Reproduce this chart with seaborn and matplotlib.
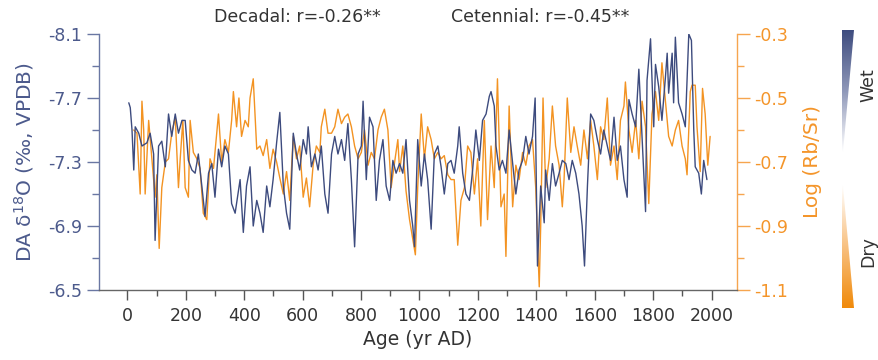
import numpy as np
import pandas as pd
import matplotlib
matplotlib.use("Agg")
import matplotlib.pyplot as plt
import seaborn as sns
from matplotlib.colors import LinearSegmentedColormap
from matplotlib.patches import Polygon
from matplotlib.ticker import FixedLocator, MultipleLocator

# ---------------- data ----------------
d18o_age = [5, 10, 16, 22, 27, 39, 50, 67, 78, 90,
            95, 107, 118, 130, 141, 152, 164, 175, 187, 198,
            209, 221, 232, 243, 255, 266, 278, 289, 300, 312,
            323, 334, 346, 357, 369, 386, 397, 408, 420, 431,
            443, 454, 465, 477, 488, 499, 511, 522, 534, 545,
            556, 568, 579, 590, 602, 613, 619, 630, 642, 653,
            664, 676, 687, 699, 710, 721, 733, 744, 755, 767,
            778, 790, 801, 807, 818, 829, 841, 852, 863, 875,
            886, 898, 909, 920,
            932, 943, 954, 966, 977, 983, 994, 1006, 1017, 1028,
            1040, 1051, 1063, 1074, 1085, 1097, 1108, 1119, 1131, 1136,
            1148, 1159, 1171, 1182, 1193, 1205, 1216, 1228, 1239, 1245,
            1256, 1262, 1273, 1284, 1296, 1307, 1318, 1330, 1341, 1353,
            1364, 1375, 1387, 1396, 1404, 1415, 1427, 1432, 1444, 1455,
            1466, 1478, 1489, 1501, 1512, 1523, 1535, 1546, 1557, 1565,
            1575, 1586, 1597, 1609, 1620, 1631, 1643, 1654, 1666, 1677,
            1688, 1700, 1711, 1717, 1728, 1740, 1751, 1762, 1774, 1779,
            1791, 1802, 1808, 1819, 1830, 1842, 1848, 1853, 1865, 1870,
            1876, 1887, 1899, 1910, 1922, 1931, 1939, 1944, 1956, 1965,
            1973, 1984]
d18o_val = [-7.67, -7.64, -7.50, -7.25, -7.52, -7.48, -7.40, -7.42, -7.48, -7.35,
            -6.81, -7.40, -7.43, -7.27, -7.60, -7.46, -7.60, -7.48, -7.56, -7.56,
            -7.31, -7.25, -7.23, -7.35, -7.15, -6.96, -7.23, -7.29, -7.08, -7.38,
            -7.27, -7.40, -7.35, -7.04, -6.98, -7.19, -6.86, -7.15, -7.27, -6.90,
            -7.06, -6.98, -6.86, -7.15, -7.02, -7.19, -7.42, -7.61, -7.15, -6.98,
            -6.88, -7.48, -7.35, -7.25, -7.44, -7.35, -7.52, -7.27, -7.35, -7.25,
            -7.40, -7.10, -6.98, -7.35, -7.46, -7.35, -7.44, -7.31, -7.54, -7.19,
            -6.77, -7.35, -7.40, -7.68, -7.19, -7.58, -7.52, -7.06, -7.31, -7.44,
            -7.15, -7.06, -7.31, -7.23,
            -7.29, -7.23, -7.44, -7.06, -6.90, -6.77, -7.44, -7.15, -7.35, -7.19,
            -6.88, -7.35, -7.40, -7.27, -7.10, -7.29, -7.31, -7.23, -7.40, -7.52,
            -7.23, -7.10, -7.06, -7.25, -7.50, -7.31, -7.56, -7.60, -7.71, -7.74,
            -7.65, -7.40, -7.25, -7.31, -7.23, -7.50, -7.31, -7.10, -7.25, -7.31,
            -7.46, -7.35, -7.46, -7.70, -6.65, -7.15, -6.92, -7.25, -7.06, -7.29,
            -7.15, -7.23, -7.31, -7.29, -7.19, -7.31, -7.23, -7.10, -6.90, -6.65,
            -7.15, -7.60, -7.56, -7.44, -7.35, -7.50, -7.40, -7.31, -7.58, -7.31,
            -7.40, -7.19, -7.08, -7.69, -7.60, -7.52, -7.88, -7.46, -6.99, -7.81,
            -8.07, -7.52, -7.91, -7.77, -7.56, -7.83, -7.98, -7.73, -7.98, -7.67,
            -8.08, -7.67, -7.60, -7.52, -8.10, -8.06, -7.50, -7.27, -7.23, -7.10,
            -7.31, -7.19]

rbsr_age = [22, 33, 44, 50, 56, 61, 73, 84, 95, 101,
            109, 118, 130, 141, 152, 164, 175, 181, 190, 198,
            209, 215, 226, 238, 249, 260, 272, 283, 295, 312,
            323, 334, 346, 357, 363, 374, 382, 391, 403, 414,
            420, 431, 443, 454, 465, 477, 488, 499, 511, 522,
            534, 545, 556, 568, 579, 590, 602, 613, 624, 636,
            647, 659, 664, 676, 687, 699, 710, 721, 733, 744,
            755, 767, 778, 790, 801, 812, 824, 835, 846, 858,
            869, 880, 892, 903, 915, 926,
            932, 943, 954, 966, 977, 986, 994, 1006, 1017, 1028,
            1040, 1051, 1063, 1074, 1085, 1097, 1108, 1119, 1131, 1142,
            1154, 1165, 1176, 1188, 1199, 1210, 1222, 1233, 1245, 1256,
            1267, 1279, 1290, 1296, 1307, 1319, 1330, 1341, 1353, 1364,
            1375, 1387, 1398, 1410, 1415, 1423, 1432, 1444, 1455, 1466,
            1478, 1489, 1495, 1506, 1518, 1529, 1540, 1552, 1563, 1575,
            1586, 1597, 1609, 1620, 1631, 1643, 1654, 1666, 1677, 1688,
            1700, 1705, 1717, 1728, 1740, 1751, 1762, 1774, 1785, 1796,
            1808, 1819, 1830, 1842, 1853, 1865, 1876, 1887, 1899, 1910,
            1916, 1927, 1933, 1944, 1950, 1961, 1969, 1978, 1987, 1995]
rbsr_val = [-0.60, -0.61, -0.80, -0.51, -0.60, -0.80, -0.57, -0.69, -0.81, -0.74,
            -0.97, -0.78, -0.70, -0.69, -0.61, -0.56, -0.78, -0.69, -0.57, -0.78,
            -0.81, -0.57, -0.67, -0.69, -0.72, -0.86, -0.88, -0.69, -0.72, -0.55,
            -0.70, -0.63, -0.67, -0.57, -0.48, -0.59, -0.50, -0.62, -0.57, -0.59,
            -0.50, -0.44, -0.66, -0.65, -0.68, -0.63, -0.72, -0.66, -0.70, -0.75,
            -0.80, -0.73, -0.82, -0.62, -0.69, -0.65, -0.81, -0.75, -0.84, -0.71,
            -0.65, -0.67, -0.59, -0.535, -0.61, -0.61, -0.59, -0.535, -0.58, -0.56,
            -0.55, -0.59, -0.65, -0.69, -0.67, -0.60, -0.71, -0.67, -0.69, -0.60,
            -0.56, -0.535, -0.60, -0.78, -0.70, -0.63,
            -0.73, -0.65, -0.79, -0.88, -0.94, -0.99, -0.78, -0.55, -0.69, -0.59,
            -0.63, -0.69, -0.67, -0.69, -0.68, -0.74, -0.755, -0.755, -0.96, -0.82,
            -0.78, -0.65, -0.67, -0.80, -0.69, -0.90, -0.57, -0.88, -0.65, -0.78,
            -0.44, -0.84, -0.80, -0.995, -0.525, -0.84, -0.71, -0.755, -0.67, -0.71,
            -0.65, -0.63, -0.78, -1.09, -0.90, -0.50, -0.78, -0.69, -0.525, -0.65,
            -0.71, -0.84, -0.755, -0.50, -0.67, -0.59, -0.65, -0.71, -0.60, -0.69,
            -0.57, -0.65, -0.755, -0.59, -0.63, -0.50, -0.71, -0.65, -0.755, -0.57,
            -0.525, -0.45, -0.60, -0.67, -0.57, -0.69, -0.51, -0.59, -0.83, -0.55,
            -0.48, -0.57, -0.39, -0.51, -0.62, -0.65, -0.60, -0.57, -0.65, -0.69,
            -0.74, -0.48, -0.46, -0.46, -0.59, -0.73, -0.47, -0.55, -0.71, -0.62]

x_ticks = [0, 200, 400, 600, 800, 1000, 1200, 1400, 1600, 1800, 2000]
left_ticks = [-8.1, -7.7, -7.3, -6.9, -6.5]
right_ticks = [-0.3, -0.5, -0.7, -0.9, -1.1]
title_left = "Decadal: r=-0.26**"
title_right = "Cetennial: r=-0.45**"

# ---------------- style ----------------
NAVY = "#3d4b7e"
ORANGE = "#f39322"
LEFT_COL = "#4c5a8c"
LEFT_SPINE = "#6a77a3"
RIGHT_COL = "#f4952a"
RIGHT_SPINE = "#f6a54f"
DARK = "#333333"

sns.set_style("ticks")
plt.rcParams["font.family"] = ["DejaVu Sans"]
plt.rcParams["mathtext.fontset"] = "dejavusans"

fig = plt.figure(figsize=(8.79, 3.6), dpi=100)
ax = fig.add_axes([99 / 879, 1 - 290 / 360, 638 / 879, 256 / 360])
ax2 = ax.twinx()

df_o = pd.DataFrame({"age": rbsr_age, "val": rbsr_val})
df_n = pd.DataFrame({"age": d18o_age, "val": d18o_val})
sns.lineplot(data=df_o, x="age", y="val", ax=ax2, color=ORANGE, lw=1.0)
sns.lineplot(data=df_n, x="age", y="val", ax=ax, color=NAVY, lw=1.0)
ax.set_zorder(ax2.get_zorder() + 1)
ax.patch.set_visible(False)

ax.set_xlim(-97, 2087)
ax.set_ylim(-6.5, -8.1)
ax2.set_ylim(-1.1, -0.3)

ax.set_xticks(x_ticks)
ax.xaxis.set_minor_locator(MultipleLocator(100))
ax.set_yticks(left_ticks)
ax.set_yticklabels([f"{t:.1f}" for t in left_ticks])
ax.yaxis.set_minor_locator(FixedLocator([(a + b) / 2 for a, b in zip(left_ticks[:-1], left_ticks[1:])]))
ax2.set_yticks(right_ticks)
ax2.set_yticklabels([f"{t:.1f}" for t in right_ticks])
ax2.yaxis.set_minor_locator(FixedLocator([(a + b) / 2 for a, b in zip(right_ticks[:-1], right_ticks[1:])]))

for s in ["top", "right"]:
    ax.spines[s].set_visible(False)
for s in ["top", "left", "bottom"]:
    ax2.spines[s].set_visible(False)
ax.spines["left"].set_color(LEFT_SPINE)
ax.spines["bottom"].set_color("#666666")
ax2.spines["right"].set_color(RIGHT_SPINE)
for sp in [ax.spines["left"], ax.spines["bottom"], ax2.spines["right"]]:
    sp.set_linewidth(1.0)

ax.tick_params(axis="y", which="major", length=9, width=1, color=LEFT_SPINE,
               labelcolor=LEFT_COL, labelsize=12.5, pad=3, direction="out")
ax.tick_params(axis="y", which="minor", length=5, width=1, color=LEFT_SPINE, direction="out")
ax.tick_params(axis="x", which="major", length=7, width=1, color="#555555",
               labelcolor=DARK, labelsize=12.5, pad=5, direction="out")
ax.tick_params(axis="x", which="minor", length=4, width=1, color="#555555", direction="out")
ax2.tick_params(axis="y", which="major", length=9, width=1, color=RIGHT_SPINE,
                labelcolor=RIGHT_COL, labelsize=12.5, pad=3, direction="out")
ax2.tick_params(axis="y", which="minor", length=5, width=1, color=RIGHT_SPINE, direction="out")

ax.set_xlabel("Age (yr AD)", fontsize=13.5, color=DARK)
ax.xaxis.set_label_coords(0.5, -0.155)
ax.set_ylabel("DA δ$^{18}$O (‰, VPDB)", fontsize=14.5, color=LEFT_COL)
ax.yaxis.set_label_coords(-0.099, 0.5)
ax2.set_ylabel("Log (Rb/Sr)", fontsize=14.5, color=RIGHT_COL)
ax2.yaxis.set_label_coords(1.103, 0.5)

fig.text(297 / 879, 1 - 17 / 360, title_left, ha="center", va="center", fontsize=12.5, color=DARK)
fig.text(540 / 879, 1 - 17 / 360, title_right, ha="center", va="center", fontsize=12.5, color=DARK)

# ---------------- wet / dry wedge bar ----------------
cax = fig.add_axes([842 / 879, 1 - 308 / 360, 12 / 879, 278 / 360])
cax.set_xlim(0, 1)
cax.set_ylim(0, 1)
cax.axis("off")
grad = np.linspace(0, 1, 256).reshape(-1, 1)
cm_n = LinearSegmentedColormap.from_list("n", ["#ffffff", "#8e97b8", NAVY])
cm_o = LinearSegmentedColormap.from_list("o", ["#f08a0a", "#f8c080", "#ffffff"])
im1 = cax.imshow(grad, extent=[0, 1, 0.56, 1], origin="lower", aspect="auto", cmap=cm_n)
p1 = Polygon([(0, 1), (1, 1), (0.08, 0.56), (0, 0.56)], closed=True, transform=cax.transData)
im1.set_clip_path(p1)
im2 = cax.imshow(grad, extent=[0, 1, 0, 0.44], origin="lower", aspect="auto", cmap=cm_o)
p2 = Polygon([(0, 0), (1, 0), (0.08, 0.44), (0, 0.44)], closed=True, transform=cax.transData)
im2.set_clip_path(p2)
fig.text(868 / 879, 1 - 85 / 360, "Wet", rotation=90, ha="center", va="center", fontsize=12.5, color=DARK)
fig.text(868 / 879, 1 - 252 / 360, "Dry", rotation=90, ha="center", va="center", fontsize=12.5, color=DARK)

fig.savefig("out.png", dpi=100)
